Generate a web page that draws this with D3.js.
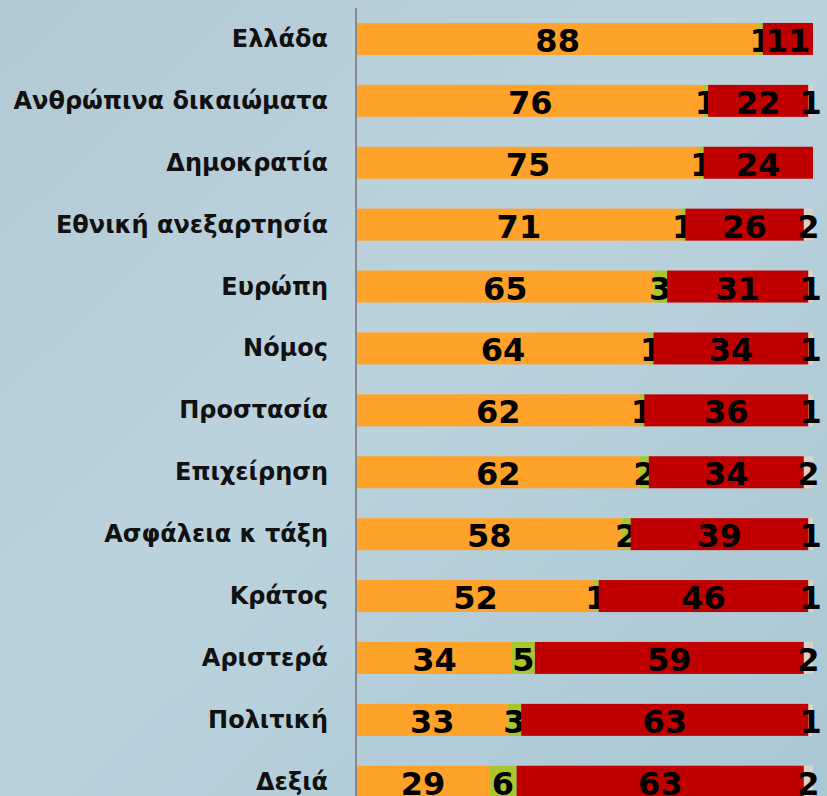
<!DOCTYPE html>
<html>
<head>
    <meta charset="utf-8">
    <script src="https://cdn.jsdelivr.net/npm/d3@7"></script>
    <style>
        body { margin: 0; }
    </style>
</head>
<body>
    <svg width="827" height="796" id="mainsvg"></svg>
    <script>
        // survey: positive / neutral / negative / no answer
        const categories = ['Ελλάδα', 'Ανθρώπινα δικαιώματα', 'Δημοκρατία', 'Εθνική ανεξαρτησία', 'Ευρώπη', 'Νόμος',
            'Προστασία', 'Επιχείρηση', 'Ασφάλεια κ τάξη', 'Κράτος', 'Αριστερά', 'Πολιτική', 'Δεξιά'];
        const positive = [88, 76, 75, 71, 65, 64, 62, 62, 58, 52, 34, 33, 29];
        const neutral  = [1, 1, 1, 1, 3, 1, 1, 2, 2, 1, 5, 3, 6];
        const negative = [11, 22, 24, 26, 31, 34, 36, 34, 39, 46, 59, 63, 63];
        const noAnswer = [0, 1, 0, 2, 1, 1, 1, 2, 1, 1, 2, 1, 2];
        const seriesKeys = ['positive', 'neutral', 'negative', 'noAnswer'];
        const colors = ['#FFA229', '#A9C62C', '#C00000', '#D8D2CA'];

        const svg = d3.select('svg');
        const width = +svg.attr('width');
        const height = +svg.attr('height');

        // background in place of the photo
        const defs = svg.append('defs');
        const grad = defs.append('linearGradient').attr('id', 'bg')
            .attr('x1', 0).attr('y1', 0).attr('x2', 1).attr('y2', 1);
        grad.append('stop').attr('offset', '0%').attr('stop-color', '#b3c9d4');
        grad.append('stop').attr('offset', '45%').attr('stop-color', '#bcd3dd');
        grad.append('stop').attr('offset', '100%').attr('stop-color', '#a9c7d3');
        svg.append('rect').attr('width', width).attr('height', height).attr('fill', 'url(#bg)');

        const table = categories.map((c, i) => ({
            name: c, positive: positive[i], neutral: neutral[i], negative: negative[i], noAnswer: noAnswer[i]
        }));
        const stacked = d3.stack().keys(seriesKeys)(table);

        const x = d3.scaleLinear().domain([0, 100]).range([357, 813]);
        const y = d3.scaleBand().domain(categories).range([8, 8 + 13 * 61.9])
            .paddingInner(0.483).paddingOuter(0.2415);

        const layers = svg.selectAll('g.layer').data(stacked).join('g')
            .attr('class', 'layer').attr('fill', (d, i) => colors[i]);
        layers.selectAll('rect').data(d => d).join('rect')
            .attr('x', d => x(d[0]))
            .attr('y', d => y(d.data.name))
            .attr('width', d => x(d[1]) - x(d[0]))
            .attr('height', y.bandwidth());

        // axis line
        svg.append('line').attr('x1', 356).attr('x2', 356).attr('y1', 8).attr('y2', height)
            .attr('stroke', '#8a8a8a').attr('stroke-width', 2);

        // category labels
        svg.append('g').selectAll('text').data(categories).join('text')
            .attr('x', 328).attr('y', d => y(d) + y.bandwidth() / 2)
            .attr('text-anchor', 'end').attr('dominant-baseline', 'central')
            .attr('font-family', 'DejaVu Sans, sans-serif').attr('font-weight', 'bold')
            .attr('font-size', 24).attr('fill', '#111')
            .text(d => d);

        // value labels
        layers.selectAll('text').data(d => d.filter(s => s[1] - s[0] > 0)).join('text')
            .attr('x', d => (x(d[0]) + x(d[1])) / 2)
            .attr('y', d => y(d.data.name) + y.bandwidth() / 2 + 2)
            .attr('text-anchor', 'middle').attr('dominant-baseline', 'central')
            .attr('font-family', 'DejaVu Sans, sans-serif').attr('font-weight', 'bold')
            .attr('font-size', 32).attr('fill', '#000')
            .text(d => d[1] - d[0]);
    </script>
</body>
</html>
